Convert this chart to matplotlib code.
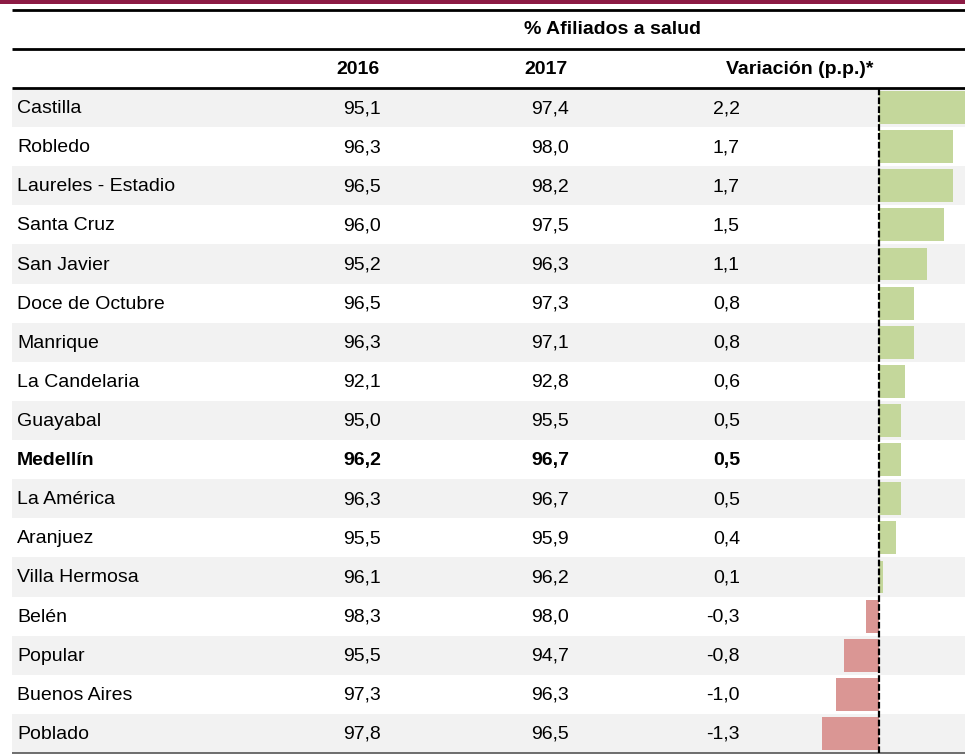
import matplotlib
matplotlib.use("Agg")
import matplotlib.pyplot as plt

plt.rcParams['font.family'] = ['Liberation Sans', 'DejaVu Sans']

comunas = ["Castilla", "Robledo", "Laureles - Estadio", "Santa Cruz", "San Javier",
           "Doce de Octubre", "Manrique", "La Candelaria", "Guayabal", "Medellín",
           "La América", "Aranjuez", "Villa Hermosa", "Belén", "Popular",
           "Buenos Aires", "Poblado"]
v2016 = [95.1, 96.3, 96.5, 96.0, 95.2, 96.5, 96.3, 92.1, 95.0, 96.2,
         96.3, 95.5, 96.1, 98.3, 95.5, 97.3, 97.8]
v2017 = [97.4, 98.0, 98.2, 97.5, 96.3, 97.3, 97.1, 92.8, 95.5, 96.7,
         96.7, 95.9, 96.2, 98.0, 94.7, 96.3, 96.5]
variacion = [2.2, 1.7, 1.7, 1.5, 1.1, 0.8, 0.8, 0.6, 0.5, 0.5,
             0.5, 0.4, 0.1, -0.3, -0.8, -1.0, -1.3]
col_headers = ["2016", "2017", "Variación (p.p.)*"]
title = "% Afiliados a salud"

W, H = 965, 755
top, row_h = 88, (753 - 88) / len(comunas)
fs = 14

def fmt(v):
    return f"{v:.1f}".replace(".", ",")

fig = plt.figure(figsize=(W / 100, H / 100), dpi=100)
ax = fig.add_axes([0, 0, 1, 1])
ax.set_xlim(0, W)
ax.set_ylim(H, 0)
ax.axis("off")

# top band and rules
ax.axhspan(0, 4, color="#8C1A44", lw=0)
for y, lw, c in [(10, 2, "black"), (49, 2, "black"), (88, 2, "black"), (753, 1.2, "#555555")]:
    ax.plot([12, W], [y, y], color=c, lw=lw, solid_capstyle="butt")

ax.text(613, 30, title, ha="center", va="center", fontsize=fs, fontweight="bold")
ax.text(358, 69, col_headers[0], ha="center", va="center", fontsize=fs, fontweight="bold")
ax.text(546, 69, col_headers[1], ha="center", va="center", fontsize=fs, fontweight="bold")
ax.text(800, 69, col_headers[2], ha="center", va="center", fontsize=fs, fontweight="bold")

for i, name in enumerate(comunas):
    y0 = top + i * row_h
    yc = y0 + row_h / 2 + 1
    if i % 2 == 0:
        ax.axhspan(y0, y0 + row_h, xmin=12 / W, xmax=1, color="#F2F2F2", lw=0)
    wt = "bold" if name == "Medellín" else "normal"
    ax.text(17, yc, name, ha="left", va="center", fontsize=fs, fontweight=wt)
    ax.text(381, yc, fmt(v2016[i]), ha="right", va="center", fontsize=fs, fontweight=wt)
    ax.text(569, yc, fmt(v2017[i]), ha="right", va="center", fontsize=fs, fontweight=wt)
    ax.text(740, yc, fmt(variacion[i]), ha="right", va="center", fontsize=fs, fontweight=wt)

# bar column (zero line at x=879, ~43.5 px per p.p.; Castilla's bar runs off the edge)
x0, x1, zero = 780, W, 879
scale = 43.5
bx = fig.add_axes([x0 / W, (H - 753) / H, (x1 - x0) / W, (753 - top) / H])
bx.patch.set_alpha(0)
bx.set_xlim(-(zero - x0) / scale, (x1 - zero) / scale)
bx.set_ylim(len(comunas), 0)
bx.axis("off")
ys = [i + 0.5 for i in range(len(comunas))]
colors = ["#C4D79B" if v >= 0 else "#DA9694" for v in variacion]
bx.barh(ys, variacion, height=0.84, color=colors)
bx.axvline(0, color="black", lw=1.6, linestyle=(0, (3, 1)))

fig.savefig("out.png", dpi=100)
